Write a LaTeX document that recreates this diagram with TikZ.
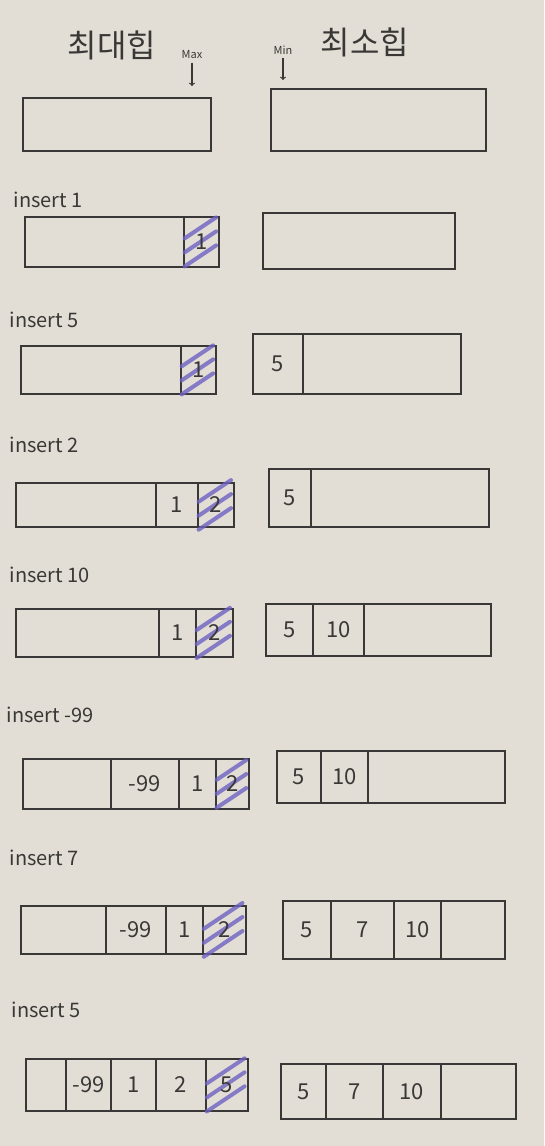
\documentclass[tikz,border=0pt]{standalone}
\usepackage{fontspec}
\setmainfont{Noto Sans CJK KR}
\usetikzlibrary{calc}
\definecolor{paper}{HTML}{E2DED5}
\definecolor{ink}{HTML}{3A3836}
\definecolor{hatchblue}{HTML}{6E62C2}
\tikzset{
  arr/.style={draw=ink, line width=1.8pt, inner sep=0pt, anchor=north west},
  cellbox/.style={draw=ink, line width=1.8pt, inner sep=0pt, anchor=north west, font=\fontsize{22}{24}\selectfont, text=ink},
  lbl/.style={anchor=west, font=\fontsize{20}{24}\selectfont, text=ink},
  kor/.style={font=\fontsize{32}{36}\selectfont, text=ink},
  tiny/.style={font=\fontsize{11}{12}\selectfont, text=ink},
  ptr/.style={->, draw=ink, line width=1.2pt},
  hatchline/.style={draw=hatchblue, line width=4pt, line cap=round, opacity=0.8}
}
% #1 = cell name, #2 = cell width (px)
\newcommand\hatchcell[2]{%
  \foreach \k in {-1,0,1}{%
    \draw[hatchline] ($(#1.center)+({-0.48*#2},{0.3*#2+14*\k})$) -- ($(#1.center)+({0.42*#2},{-0.3*#2+14*\k})$);
  }%
}
\begin{document}
\begin{tikzpicture}[x=1pt,y=-1pt]
\fill[paper] (0,0) rectangle (544,1146);
\useasboundingbox (0,0) rectangle (544,1146);

% header
\node[kor] (maxname) at (112,45) {최대힙};
\node[tiny] (maxlbl) at (192,55) {Max};
\coordinate (maxtip) at (192,86);
\draw[ptr] (maxlbl.south) -- (maxtip);
\node[tiny] (minlbl) at (283,50) {Min};
\coordinate (mintip) at (283,80);
\draw[ptr] (minlbl.south) -- (mintip);
\node[kor] (minname) at (365,42) {최소힙};

% row 0
\node[arr, minimum width=188pt, minimum height=53pt] (L0) at (22,97) {};
\node[arr, minimum width=215pt, minimum height=62pt] (R0) at (270,88) {};

% row 1: insert 1
\node[lbl] (t1) at (10,200) {insert 1};
\node[arr, minimum width=194pt, minimum height=50pt] (L1) at (24,216) {};
\node[cellbox, minimum width=35pt, minimum height=50pt] (L1a) at (183,216) {};
\hatchcell{L1a}{35}
\node[text=ink, font=\fontsize{22}{24}\selectfont] at (L1a) {1};
\node[arr, minimum width=192pt, minimum height=56pt] (R1) at (262,212) {};

% row 2: insert 5
\node[lbl] (t2) at (6,320) {insert 5};
\node[arr, minimum width=195pt, minimum height=48pt] (L2) at (20,345) {};
\node[cellbox, minimum width=35pt, minimum height=48pt] (L2a) at (180,345) {};
\hatchcell{L2a}{35}
\node[text=ink, font=\fontsize{22}{24}\selectfont] at (L2a) {1};
\node[arr, minimum width=208pt, minimum height=60pt] (R2) at (252,333) {};
\node[cellbox, minimum width=50pt, minimum height=60pt] (R2a) at (252,333) {5};

% row 3: insert 2
\node[lbl] (t3) at (6,445) {insert 2};
\node[arr, minimum width=218pt, minimum height=44pt] (L3) at (15,482) {};
\node[cellbox, minimum width=42pt, minimum height=44pt] (L3a) at (155,482) {1};
\node[cellbox, minimum width=36pt, minimum height=44pt] (L3b) at (197,482) {};
\hatchcell{L3b}{36}
\node[text=ink, font=\fontsize{22}{24}\selectfont] at (L3b) {2};
\node[arr, minimum width=220pt, minimum height=58pt] (R3) at (268,468) {};
\node[cellbox, minimum width=42pt, minimum height=58pt] (R3a) at (268,468) {5};

% row 4: insert 10
\node[lbl] (t4) at (6,575) {insert 10};
\node[arr, minimum width=217pt, minimum height=48pt] (L4) at (15,608) {};
\node[cellbox, minimum width=37pt, minimum height=48pt] (L4a) at (158,608) {1};
\node[cellbox, minimum width=37pt, minimum height=48pt] (L4b) at (195,608) {};
\hatchcell{L4b}{37}
\node[text=ink, font=\fontsize{22}{24}\selectfont] at (L4b) {2};
\node[arr, minimum width=225pt, minimum height=52pt] (R4) at (265,603) {};
\node[cellbox, minimum width=47pt, minimum height=52pt] (R4a) at (265,603) {5};
\node[cellbox, minimum width=51pt, minimum height=52pt] (R4b) at (312,603) {10};

% row 5: insert -99
\node[lbl] (t5) at (3,715) {insert -99};
\node[arr, minimum width=226pt, minimum height=50pt] (L5) at (22,758) {};
\node[cellbox, minimum width=68pt, minimum height=50pt] (L5a) at (110,758) {-99};
\node[cellbox, minimum width=37pt, minimum height=50pt] (L5b) at (178,758) {1};
\node[cellbox, minimum width=33pt, minimum height=50pt] (L5c) at (215,758) {};
\hatchcell{L5c}{33}
\node[text=ink, font=\fontsize{22}{24}\selectfont] at (L5c) {2};
\node[arr, minimum width=228pt, minimum height=52pt] (R5) at (276,750) {};
\node[cellbox, minimum width=44pt, minimum height=52pt] (R5a) at (276,750) {5};
\node[cellbox, minimum width=47pt, minimum height=52pt] (R5b) at (320,750) {10};

% row 6: insert 7
\node[lbl] (t6) at (6,858) {insert 7};
\node[arr, minimum width=225pt, minimum height=48pt] (L6) at (20,905) {};
\node[cellbox, minimum width=60pt, minimum height=48pt] (L6a) at (105,905) {-99};
\node[cellbox, minimum width=37pt, minimum height=48pt] (L6b) at (165,905) {1};
\node[cellbox, minimum width=43pt, minimum height=48pt] (L6c) at (202,905) {};
\hatchcell{L6c}{43}
\node[text=ink, font=\fontsize{22}{24}\selectfont] at (L6c) {2};
\node[arr, minimum width=222pt, minimum height=58pt] (R6) at (282,900) {};
\node[cellbox, minimum width=48pt, minimum height=58pt] (R6a) at (282,900) {5};
\node[cellbox, minimum width=63pt, minimum height=58pt] (R6b) at (330,900) {7};
\node[cellbox, minimum width=47pt, minimum height=58pt] (R6c) at (393,900) {10};

% row 7: insert 5
\node[lbl] (t7) at (8,1010) {insert 5};
\node[arr, minimum width=222pt, minimum height=52pt] (L7) at (25,1058) {};
\node[cellbox, minimum width=45pt, minimum height=52pt] (L7a) at (65,1058) {-99};
\node[cellbox, minimum width=45pt, minimum height=52pt] (L7b) at (110,1058) {1};
\node[cellbox, minimum width=50pt, minimum height=52pt] (L7c) at (155,1058) {2};
\node[cellbox, minimum width=42pt, minimum height=52pt] (L7d) at (205,1058) {};
\hatchcell{L7d}{42}
\node[text=ink, font=\fontsize{22}{24}\selectfont] at (L7d) {5};
\node[arr, minimum width=235pt, minimum height=55pt] (R7) at (280,1063) {};
\node[cellbox, minimum width=45pt, minimum height=55pt] (R7a) at (280,1063) {5};
\node[cellbox, minimum width=57pt, minimum height=55pt] (R7b) at (325,1063) {7};
\node[cellbox, minimum width=58pt, minimum height=55pt] (R7c) at (382,1063) {10};
\end{tikzpicture}
\end{document}
